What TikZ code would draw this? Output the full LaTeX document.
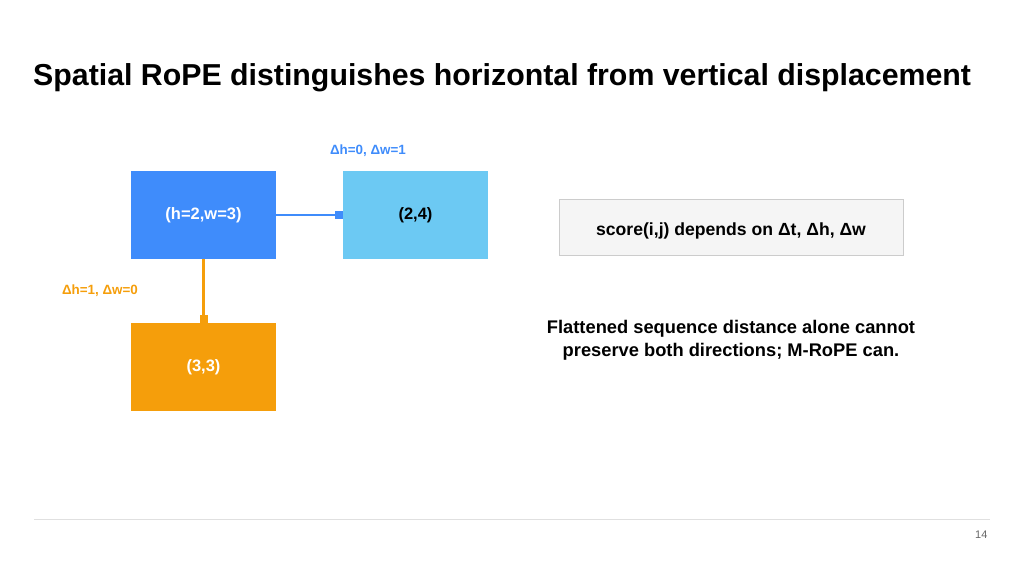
\documentclass[tikz,border=0pt]{standalone}
\usepackage{fontspec}
\setmainfont{Liberation Sans}
\usetikzlibrary{arrows.meta}
\definecolor{posblue}{HTML}{3F8CFB}
\definecolor{poslight}{HTML}{6CC9F3}
\definecolor{posorange}{HTML}{F59E0B}
\definecolor{notegray}{HTML}{F5F5F5}
\definecolor{noteline}{HTML}{CCCCCC}
\begin{document}
\begin{tikzpicture}[x=1pt, y=-1pt,
  patch/.style={minimum width=145pt, minimum height=88pt, inner sep=0pt,
    font=\fontsize{16.5}{20}\selectfont\bfseries},
  link/.style={line width=2.8pt, -{Square[length=8pt,width=8pt]}},
  delta/.style={font=\fontsize{13.4}{16}\selectfont\bfseries}]
  \useasboundingbox (0,0) rectangle (1024,575);
  \node[anchor=base west, inner sep=0pt, font=\fontsize{30.3}{36}\selectfont\bfseries] (title)
    at (33,86) {Spatial RoPE distinguishes horizontal from vertical displacement};
  % patches
  \node[patch, fill=posblue, text=white] (cur) at (203.5,215) {(h=2,w=3)};
  \node[patch, fill=poslight] (right) at (415.5,215) {(2,4)};
  \node[patch, fill=posorange, text=white] (below) at (203.5,367) {(3,3)};
  \draw[link, posblue] (cur.east) -- (right.west);
  \draw[link, posorange] (cur.south) -- (below.north);
  \node[delta, text=posblue] (dright) at (368,151) {Δh=0, Δw=1};
  \node[delta, text=posorange] (dbelow) at (100,291) {Δh=1, Δw=0};
  % note
  \node[draw=noteline, fill=notegray, minimum width=344pt, minimum height=56pt,
    text height=16pt, text depth=0pt,
    font=\fontsize{17.6}{20}\selectfont\bfseries] (score) at (731,227)
    {score(i,j) depends on Δt, Δh, Δw};
  \node[align=center, font=\fontsize{18.3}{23}\selectfont\bfseries] (flat) at (731,340)
    {Flattened sequence distance alone cannot\\preserve both directions; M-RoPE can.};
  % footer
  \coordinate (fl) at (34,519);
  \coordinate (fr) at (990,519);
  \draw[black!12, line width=1pt] (fl) -- (fr);
  \node[anchor=east, text=black!60, font=\fontsize{11}{13}\selectfont] (page) at (991,535) {14};
\end{tikzpicture}
\end{document}
